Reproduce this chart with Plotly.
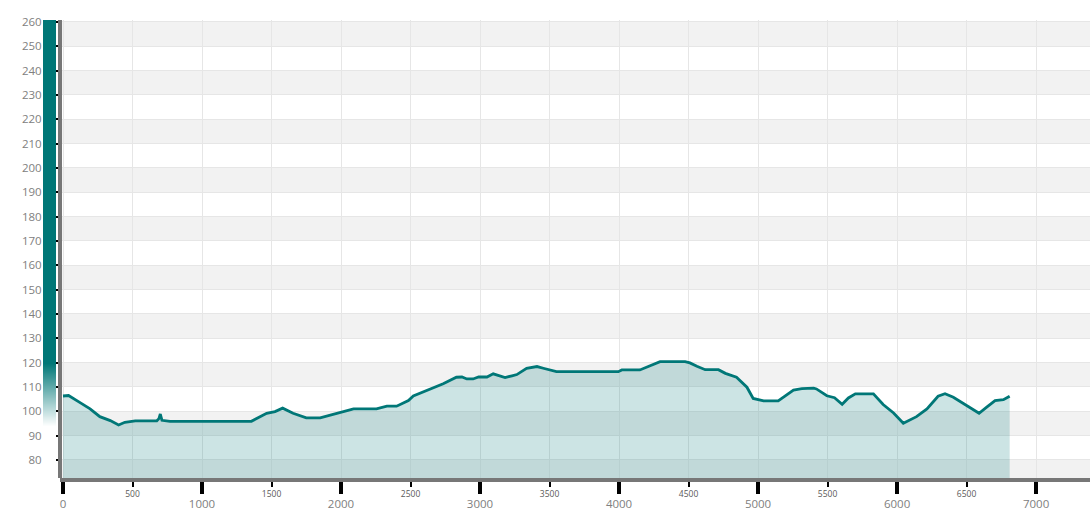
import plotly.graph_objects as go

# ---- data (distance in m, elevation in m) ----
distance = [0, 40, 120, 195, 265, 340, 400, 445, 520, 675, 690, 700, 712, 770,
            1355, 1465, 1525, 1580, 1655, 1750, 1850, 1990, 2090, 2255, 2330, 2400,
            2485, 2520, 2615, 2735, 2830, 2870, 2905, 2950, 2990, 3050, 3095, 3130,
            3180, 3230, 3265, 3335, 3410, 3455, 3550, 3995, 4020, 4150, 4225, 4295,
            4475, 4510, 4560, 4620, 4715, 4765, 4845, 4920, 4965, 5040, 5145, 5255,
            5315, 5400, 5420, 5495, 5550, 5605, 5650, 5700, 5830, 5900, 5975, 6045,
            6140, 6215, 6295, 6345, 6405, 6500, 6590, 6645, 6705, 6765, 6810]
elevation = [106.3, 106.5, 103.7, 101.0, 97.8, 96.2, 94.4, 95.5, 96.1, 96.1, 97.0, 98.9, 96.3, 95.9,
             95.9, 99.2, 99.9, 101.3, 99.2, 97.3, 97.3, 99.3, 101.0, 101.0, 102.1, 102.1,
             104.4, 106.3, 108.5, 111.3, 114.0, 114.1, 113.3, 113.3, 114.1, 114.1, 115.4, 114.9,
             113.9, 114.6, 115.1, 117.7, 118.4, 117.7, 116.3, 116.3, 117.0, 117.0, 118.8, 120.4,
             120.4, 119.9, 118.5, 117.1, 117.1, 115.6, 114.0, 109.9, 105.3, 104.3, 104.3, 108.7,
             109.3, 109.5, 109.2, 106.4, 105.6, 102.9, 105.5, 107.2, 107.2, 102.8, 99.3, 95.1,
             97.8, 101.0, 106.2, 107.2, 105.8, 102.3, 99.2, 101.7, 104.4, 104.8, 106.2]

y_ticks = list(range(80, 261, 10))
x_major = [0, 1000, 2000, 3000, 4000, 5000, 6000, 7000]
x_minor = [500, 1500, 2500, 3500, 4500, 5500, 6500]

# gradient strip on the left (elevation levels and shade 0=white, 1=teal)
strip_levels = [60, 94, 120, 270]
strip_shade = [0, 0, 1, 1]

TEAL = '#007777'
W, H = 1090, 510
FONT = 'Open Sans'

fig = go.Figure()

fig.add_trace(go.Heatmap(
    x=[0, 1], y=strip_levels, z=[[s, s] for s in strip_shade],
    colorscale=[[0, '#ffffff'], [1, TEAL]], zmin=0, zmax=1,
    zsmooth='best', showscale=False, xaxis='x2', yaxis='y', hoverinfo='skip'))

fig.add_trace(go.Scatter(
    x=distance, y=elevation, mode='lines',
    line=dict(color=TEAL, width=2.8),
    fill='tozeroy', fillcolor='rgba(0,119,119,0.2)',
    xaxis='x', yaxis='y', showlegend=False))

# invisible trace to keep the minor-label axis alive
fig.add_trace(go.Scatter(x=[x_minor[0]], y=[None], xaxis='x3', yaxis='y',
                         mode='markers', showlegend=False, hoverinfo='skip'))

shapes = []
for y0 in range(70, 260, 20):
    shapes.append(dict(type='rect', xref='x domain', yref='y', x0=0, x1=1,
                       y0=y0, y1=y0 + 10, fillcolor='#f2f2f2', line=dict(width=0),
                       layer='below'))

xr = [-21.6, 7388]
yr = [72.6, 260.8]
left = 60 / W

fig.update_layout(
    width=W, height=H, autosize=False,
    template='none',
    paper_bgcolor='white', plot_bgcolor='white',
    margin=dict(l=0, r=0, t=20, b=32, pad=0),
    showlegend=False,
    font=dict(family=FONT),
    shapes=shapes,
    xaxis=dict(domain=[left, 1], range=xr, anchor='y',
               tickmode='array', tickvals=x_major, ticktext=[str(v) for v in x_major],
               ticks='outside', ticklen=12, tickwidth=4, tickcolor='black',
               showline=True, linecolor='#777777', linewidth=4,
               showgrid=True, gridcolor='#e6e6e6', gridwidth=1, zeroline=False,
               tickfont=dict(size=11.5, color='#808080', family=FONT),
               automargin=False),
    xaxis3=dict(overlaying='x', range=xr, anchor='y', side='bottom',
                tickmode='array', tickvals=x_minor, ticktext=[str(v) for v in x_minor],
                ticks='outside', ticklen=5, tickwidth=2, tickcolor='black',
                showline=True, linecolor='#777777', linewidth=4,
                showgrid=True, gridcolor='#e6e6e6', gridwidth=1, zeroline=False,
                tickfont=dict(size=8.5, color='#5a5a5a', family=FONT),
                automargin=False),
    xaxis2=dict(domain=[43 / W, 56 / W], range=[-0.5, 1.5], visible=False,
                anchor='free', position=0, fixedrange=True),
    yaxis=dict(anchor='free', position=left, range=yr,
               tickmode='array', tickvals=y_ticks, ticktext=[str(v) for v in y_ticks],
               ticks='outside', ticklen=14, tickwidth=2, tickcolor='black',
               showline=True, linecolor='#777777', linewidth=4,
               showgrid=True, gridcolor='#e6e6e6', gridwidth=1, zeroline=False,
               tickfont=dict(size=11.5, color='#808080', family=FONT),
               automargin=False),
)

fig.write_html('out.html',
               config={'displayModeBar': False},
               post_script="document.body.style.margin='0';document.body.style.overflow='hidden';"
                           "document.documentElement.style.overflow='hidden';")
